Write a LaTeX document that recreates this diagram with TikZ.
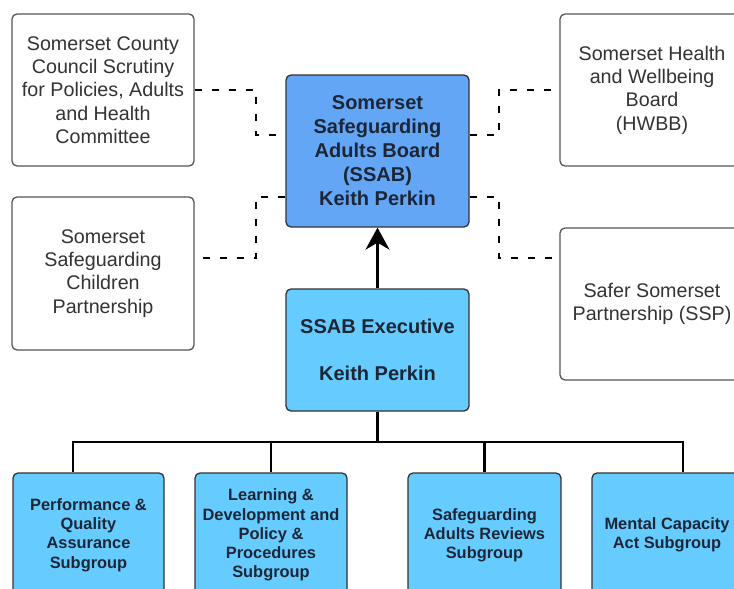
\documentclass[tikz,border=0pt]{standalone}
\usepackage{fontspec}
\setmainfont{Liberation Sans}
\usetikzlibrary{arrows.meta}
\definecolor{ssabblue}{HTML}{63A6F5}
\definecolor{subblue}{HTML}{66CCFF}
\definecolor{navytext}{HTML}{1C2636}
\definecolor{greytext}{HTML}{333333}
\definecolor{greyline}{HTML}{555555}
\begin{document}
\begin{tikzpicture}[x=1pt,y=-1pt,
  whitebox/.style={draw=greyline,line width=1.3pt,rounded corners=5pt,fill=white,
    inner sep=0pt,align=center,text=greytext,
    font=\fontsize{19.7}{23.3}\selectfont},
  bluebox/.style={draw=black!80,line width=1.3pt,rounded corners=5pt,
    inner sep=0pt,align=center,text=navytext,
    font=\fontsize{20}{24}\selectfont\bfseries},
  subbox/.style={draw=black!80,line width=1.3pt,rounded corners=5pt,fill=subblue,
    inner sep=0pt,align=center,text=navytext,minimum width=152pt,minimum height=124pt,
    font=\fontsize{16.4}{19.2}\selectfont\bfseries},
  dconn/.style={line width=2.2pt,dash pattern=on 7pt off 10pt},
  conn/.style={line width=2.2pt,black}]
\useasboundingbox (0,0) rectangle (734,589);
\clip (0,0) rectangle (734,589);
\fill[white] (0,0) rectangle (734,589);

\node[whitebox,minimum width=182pt,minimum height=152pt] (cscr) at (103,90)
  {Somerset County\\Council Scrutiny\\for Policies, Adults\\and Health\\Committee};
\node[whitebox,minimum width=182pt,minimum height=153pt] (scp) at (103,273.5)
  {Somerset\\Safeguarding\\Children\\Partnership};
\node[bluebox,fill=ssabblue,minimum width=183pt,minimum height=152pt] (ssab) at (377.5,151)
  {Somerset\\Safeguarding\\Adults Board\\(SSAB)\\Keith Perkin};
\node[bluebox,fill=subblue,minimum width=183pt,minimum height=122pt] (exec) at (377.5,350)
  {SSAB Executive\\[23pt]Keith Perkin};
\node[whitebox,minimum width=184pt,minimum height=152pt] (hwbb) at (652,90)
  {Somerset Health\\and Wellbeing\\Board\\(HWBB)};
\node[whitebox,minimum width=184pt,minimum height=152pt] (ssp) at (652,304)
  {Safer Somerset\\Partnership (SSP)};

\node[subbox,minimum width=151pt] (s1) at (88.5,535)
  {Performance \&\\Quality\\Assurance\\Subgroup};
\node[subbox] (s2) at (271,535)
  {Learning \&\\Development and\\Policy \&\\Procedures\\Subgroup};
\node[subbox,minimum width=153pt] (s3) at (484.5,535)
  {Safeguarding\\Adults Reviews\\Subgroup};
\node[subbox,minimum width=150pt] (s4) at (667,535)
  {Mental Capacity\\Act Subgroup};

% dashed links
\draw[dconn] (cscr.east) -- (256,90) -- (256,135) -- (ssab.west |- 0,135);
\draw[dconn] (ssab.west |- 0,197) -- (256,197) -- (256,258) -- (scp.east |- 0,258);
\draw[dconn] (ssab.east |- 0,135) -- (499,135) -- (499,90) -- (hwbb.west);
\draw[dconn] (ssab.east |- 0,197) -- (499,197) -- (499,258) -- (ssp.west |- 0,258);

% solid tree
\draw[conn,-{Stealth[length=22pt,width=24pt,inset=7pt]}] (exec.north) -- (ssab.south);
\draw[conn] (exec.south) -- (exec.south |- 0,442);
\draw[conn] (s1.north -| 73,0) -- (73,442) -- (683,442) -- (s4.north -| 683,0);
\draw[conn] (s2.north) -- (s2.north |- 0,442);
\draw[conn] (s3.north) -- (s3.north |- 0,442);
\end{tikzpicture}
\end{document}
